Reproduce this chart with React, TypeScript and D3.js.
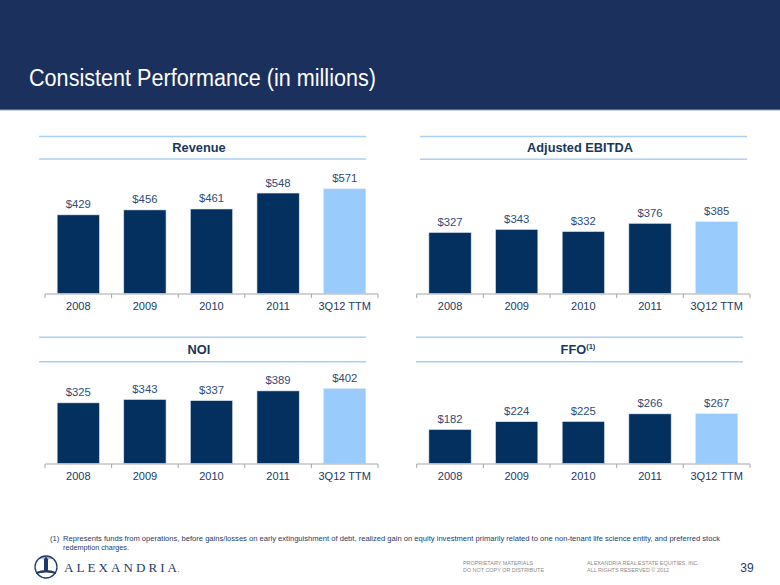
import React from "react";
import * as d3 from "d3";

const categories = ["2008", "2009", "2010", "2011", "3Q12 TTM"];
const revenue = [429, 456, 461, 548, 571];
const ebitda = [327, 343, 332, 376, 385];
const noi = [325, 343, 337, 389, 402];
const ffo = [182, 224, 225, 266, 267];
const panelTitles = ["Revenue", "Adjusted EBITDA", "NOI", "FFO"];

const DARK = "#04305f";
const LIGHT = "#99cbfc";
const NAVY = "#17375e";
const LABEL = "#2f4b78";

type PanelProps = {
  title: string;
  sup?: string;
  values: number[];
  x0: number;
  x1: number;
  base: number;
  plotH: number;
  lineX0: number;
  lineX1: number;
  lineTop: number;
  lineBot: number;
  titleX: number;
};

function Panel(p: PanelProps) {
  const x = d3
    .scaleBand<string>()
    .domain(categories)
    .range([p.x0, p.x1])
    .paddingInner(0.365)
    .paddingOuter(0.1825);
  const y = d3.scaleLinear().domain([0, 600]).range([p.base, p.base - p.plotH]);
  const step = x.step();
  const ticks = d3.range(categories.length + 1).map((i) => p.x0 + i * step);
  return (
    <g>
      <line x1={p.lineX0} x2={p.lineX1} y1={p.lineTop} y2={p.lineTop} stroke="#a9d0f5" strokeWidth={1.5} />
      <line x1={p.lineX0} x2={p.lineX1} y1={p.lineBot} y2={p.lineBot} stroke="#a9d0f5" strokeWidth={1.5} />
      <text
        x={p.titleX}
        y={(p.lineTop + p.lineBot) / 2 + 4.5}
        textAnchor="middle"
        fontFamily="Liberation Sans, Arial, sans-serif"
        fontWeight="bold"
        fontSize={12.8}
        fill={NAVY}
      >
        {p.title}
        {p.sup ? (
          <tspan fontSize={7.5} dy={-5}>
            {p.sup}
          </tspan>
        ) : null}
      </text>
      {p.values.map((v, i) => {
        const c = categories[i];
        const bx = x(c)!;
        const top = y(v);
        return (
          <g key={c}>
            <rect
              x={bx}
              y={top}
              width={x.bandwidth()}
              height={y(0) - top}
              fill={i === categories.length - 1 ? LIGHT : DARK}
              stroke="#dfe8f3"
              strokeWidth={0.6}
            />
            <text
              x={bx + x.bandwidth() / 2}
              y={top - 6.5}
              textAnchor="middle"
              fontFamily="Liberation Sans, Arial, sans-serif"
              fontSize={11.3}
              fill={LABEL}
            >
              {"$" + v}
            </text>
            <text
              x={bx + x.bandwidth() / 2}
              y={p.base + 16.5}
              textAnchor="middle"
              fontFamily="Liberation Sans, Arial, sans-serif"
              fontSize={11}
              fill="#203a68"
            >
              {c}
            </text>
          </g>
        );
      })}
      <line x1={p.x0} x2={p.x1} y1={p.base + 0.5} y2={p.base + 0.5} stroke="#a6a6a6" strokeWidth={1} />
      {ticks.map((t, i) => (
        <line key={i} x1={t} x2={t} y1={p.base + 0.5} y2={p.base + 4.5} stroke="#a6a6a6" strokeWidth={1} />
      ))}
    </g>
  );
}

export default function App() {
  return (
    <svg
      width={780}
      height={585}
      style={{ position: "absolute", left: 0, top: 0, background: "#ffffff" }}
    >
      <rect x={0} y={0} width={780} height={585} fill="#ffffff" />
      <rect x={0} y={0} width={780} height={110} fill="#1b305c" />
      <line x1={0} x2={780} y1={110} y2={110} stroke="#9aa6bf" strokeWidth={1} />
      <text
        x={29}
        y={86}
        fontFamily="Liberation Sans, Arial, sans-serif"
        fontSize={23.5}
        fill="#ffffff"
        textLength={347}
        lengthAdjust="spacingAndGlyphs"
      >
        Consistent Performance (in millions)
      </text>

      <Panel title={panelTitles[0]} values={revenue} x0={45} x1={378} base={293.5} plotH={110}
        lineX0={39} lineX1={366} lineTop={136.5} lineBot={159} titleX={199} />
      <Panel title={panelTitles[1]} values={ebitda} x0={416.7} x1={750} base={293.5} plotH={112}
        lineX0={420} lineX1={747} lineTop={136.5} lineBot={159.3} titleX={580} />
      <Panel title={panelTitles[2]} values={noi} x0={45} x1={378} base={463.5} plotH={112}
        lineX0={39} lineX1={366} lineTop={337.3} lineBot={361.7} titleX={199} />
      <Panel title={panelTitles[3]} sup="(1)" values={ffo} x0={416.7} x1={750} base={463.5} plotH={112}
        lineX0={416} lineX1={743} lineTop={337.3} lineBot={361.7} titleX={578} />

      <g fontFamily="Liberation Sans, Arial, sans-serif" fill="#1f3a6a" fontSize={7.6}>
        <text x={50} y={540.5}>(1)</text>
        <text x={63} y={540.5} textLength={657} lengthAdjust="spacingAndGlyphs">
          Represents funds from operations, before gains/losses on early extinguishment of debt, realized gain on equity investment primarily related to one non-tenant life science entity, and preferred stock
        </text>
        <text x={63} y={550} textLength={66} lengthAdjust="spacingAndGlyphs">
          redemption charges.
        </text>
      </g>

      <g>
        <circle cx={46} cy={567} r={11} fill="none" stroke="#1f3a6a" strokeWidth={1.3} />
        <path d="M36,572 Q46,568 56,572 L56,574 Q46,571 36,574 Z" fill="#1f3a6a" />
        <rect x={44} y={560} width={4} height={12} fill="#1f3a6a" />
        <path d="M43.5,560 L46,556.5 L48.5,560 Z" fill="#1f3a6a" />
        <line x1={40} y1={558} x2={52} y2={558} stroke="#1f3a6a" strokeWidth={0.6} />
        <text
          x={64}
          y={571.5}
          fontFamily="Liberation Serif, Times New Roman, serif"
          fontSize={13}
          fill="#1f3a6a"
          textLength={113}
          lengthAdjust="spacing"
        >
          ALEXANDRIA
        </text>
        <text x={177.5} y={571.5} fontFamily="Liberation Serif, serif" fontSize={9} fill="#1f3a6a">.</text>
      </g>

      <g fontFamily="Liberation Sans, Arial, sans-serif" fontSize={6} fill="#8a8a8a">
        <text x={463} y={565} textLength={70} lengthAdjust="spacingAndGlyphs">PROPRIETARY MATERIALS</text>
        <text x={463} y={571.5} textLength={81} lengthAdjust="spacingAndGlyphs">DO NOT COPY OR DISTRIBUTE</text>
        <text x={587} y={565} textLength={112} lengthAdjust="spacingAndGlyphs">ALEXANDRIA REAL ESTATE EQUITIES, INC.</text>
        <text x={587} y={571.5} textLength={82} lengthAdjust="spacingAndGlyphs">ALL RIGHTS RESERVED © 2012</text>
      </g>
      <text x={747} y={571.5} textAnchor="middle" fontFamily="Liberation Sans, Arial, sans-serif" fontSize={12} fill="#1f3a6a">
        39
      </text>
    </svg>
  );
}
